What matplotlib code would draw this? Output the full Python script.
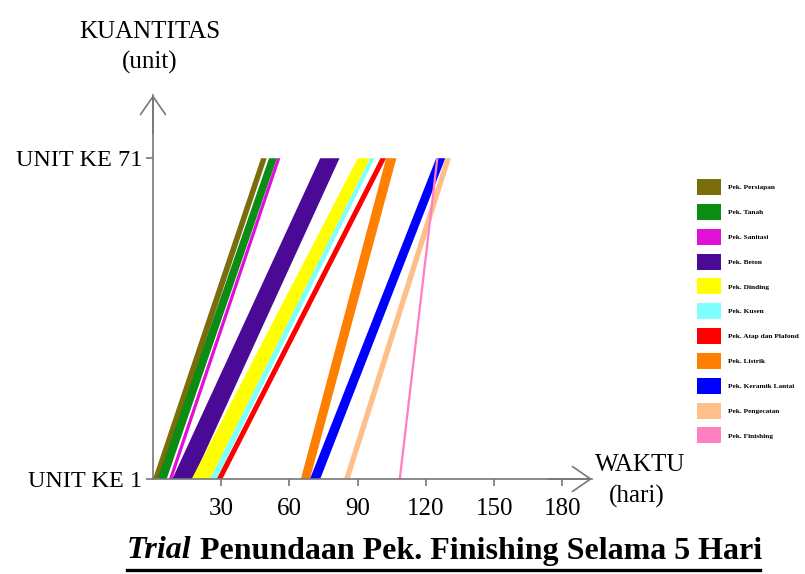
import matplotlib
matplotlib.use("Agg")
import matplotlib.pyplot as plt
from matplotlib.patches import Patch
from matplotlib.lines import Line2D

plt.rcParams['font.family'] = ['Liberation Serif', 'DejaVu Serif']

# pekerjaan (activities) and their line-of-balance bands, in days
labels = ["Pek. Persiapan", "Pek. Tanah", "Pek. Sanitasi", "Pek. Beton", "Pek. Dinding",
          "Pek. Kusen", "Pek. Atap dan Plafond", "Pek. Listrik", "Pek. Keramik Lantai",
          "Pek. Pengecatan", "Pek. Finishing"]
colors = ["#7a6d0c", "#0b8c13", "#e010d8", "#4b0a96", "#ffff00",
          "#80ffff", "#ff0000", "#ff7f00", "#0000ff", "#ffbf8a", "#ff80c0"]
# unit 1: start / finish
first_start = [0, 2, 7, 8.5, 17, 25, 28, 65, 69, 84, 108]
first_end = [3, 6, 8.5, 17.5, 25, 28, 30.5, 69, 73.5, 86.5, 109]
# unit 71: start / finish
last_start = [47.5, 51, 54.5, 73.5, 90, 95.5, 100, 102.5, 124.5, 128.5, 124.5]
last_end = [50, 54.5, 56, 82, 95.5, 97.5, 102.5, 107, 128.5, 131, 125.5]
unit_first, unit_last = 1, 71
xticks = [30, 60, 90, 120, 150, 180]

fig = plt.figure(figsize=(8.05, 5.74), dpi=100)
ax = fig.add_axes([153 / 805, 1 - 479 / 574, (592 - 153) / 805, (479 - 95) / 574])

for i in range(len(labels)):
    xs = [first_start[i], first_end[i], last_end[i], last_start[i]]
    ys = [unit_first, unit_first, unit_last, unit_last]
    ax.fill(xs, ys, color=colors[i], lw=0)

ax.set_xlim(0, 193)
ax.set_ylim(unit_first, 84.8)
for s in ["top", "right"]:
    ax.spines[s].set_visible(False)
for s in ["left", "bottom"]:
    ax.spines[s].set_color("#777777")
    ax.spines[s].set_linewidth(1.2)

ax.set_yticks([unit_first, unit_last])
ax.set_yticklabels(["UNIT KE 1", "UNIT KE 71"], fontsize=17.5)
ax.set_xticks(xticks)
ax.set_xticklabels([str(t) for t in xticks], fontsize=18)
ax.tick_params(colors="#777777", labelcolor="black", length=5, width=1.2)
ax.tick_params(axis="x", pad=9)
ax.tick_params(axis="y", pad=3)

# axis arrows
arrow = dict(arrowstyle="->,head_length=0.65,head_width=0.45", color="#777777",
             lw=1.2, mutation_scale=20, shrinkA=0, shrinkB=0)
ax.annotate("", xy=(0, 1.0), xytext=(0, 0.9), xycoords="axes fraction", arrowprops=arrow)
ax.annotate("", xy=(1.0, 0), xytext=(0.9, 0), xycoords="axes fraction", arrowprops=arrow)

fig.text(150 / 805, 1 - 32 / 574, "KUANTITAS", ha="center", va="center", fontsize=18)
fig.text(150 / 805, 1 - 62 / 574, "(unit)", ha="center", va="center", fontsize=18)
fig.text(640 / 805, 1 - 465 / 574, "WAKTU", ha="center", va="center", fontsize=18)
fig.text(637 / 805, 1 - 496 / 574, "(hari)", ha="center", va="center", fontsize=18)

handles = [Patch(facecolor=c, edgecolor="none") for c in colors]
fig.legend(handles, labels, loc="upper left", bbox_to_anchor=(697 / 805, 1 - 179 / 574),
           frameon=False, prop=dict(size=5.3, weight="bold"), handlelength=3.26,
           handleheight=2.97, labelspacing=1.2, handletextpad=0.95, borderaxespad=0,
           borderpad=0)

# title: italic "Trial" then bold rest, underlined
t1 = fig.text(127 / 805, 1 - 551 / 574, "Trial", fontsize=23, weight="bold",
              style="italic", ha="left", va="center")
ax.annotate(" Penundaan Pek. Finishing Selama 5 Hari", xy=(1, 0.5), xycoords=t1,
            ha="left", va="center", fontsize=23, weight="bold", annotation_clip=False)
fig.add_artist(Line2D([127 / 805, 760 / 805], [1 - 570 / 574, 1 - 570 / 574],
                      color="black", lw=2.4, transform=fig.transFigure))

fig.savefig("out.png", dpi=100)
